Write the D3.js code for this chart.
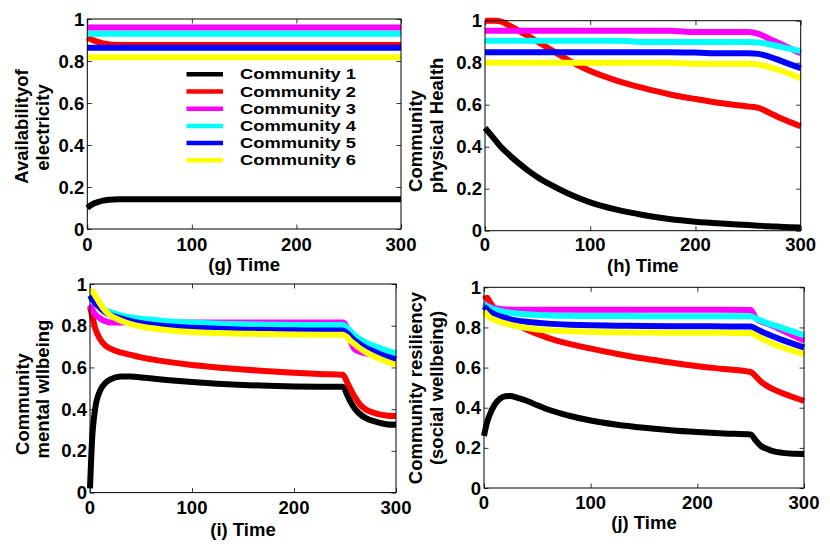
<!DOCTYPE html>
<html><head><meta charset="utf-8">
<script src="https://cdn.jsdelivr.net/npm/d3@7"></script>
<style>
html,body{margin:0;padding:0;background:#fff;}
text{font-family:"Liberation Sans",Arial,Helvetica,sans-serif;font-weight:bold;fill:#000;}
</style></head>
<body><svg id="chart" width="830" height="550"></svg>
<script>
// ---------- DATA ----------
const communities = ["Community 1","Community 2","Community 3","Community 4","Community 5","Community 6"];
const colors = ["#000000","#ff0000","#ff00ff","#00ffff","#0000ff","#ffff00"];
const xTicks = [0,100,200,300];
const yTicks = [0,0.2,0.4,0.6,0.8,1];
const yTickLabels = ["0","0.2","0.4","0.6","0.8","1"];

// (g) Availability of electricity
const timeG = [0,5,10,15,20,25,30,100,200,300];
const elecC1 = [0.100,0.118,0.128,0.135,0.139,0.141,0.142,0.142,0.142,0.142];
const elecC2 = [0.912,0.900,0.891,0.884,0.880,0.877,0.876,0.876,0.876,0.876];
const elecC3 = [0.959,0.959,0.959,0.959,0.959,0.959,0.959,0.959,0.959,0.959];
const elecC4 = [0.930,0.930,0.930,0.930,0.930,0.930,0.930,0.930,0.930,0.930];
const elecC5 = [0.863,0.863,0.863,0.863,0.863,0.863,0.863,0.863,0.863,0.863];
const elecC6 = [0.818,0.818,0.818,0.818,0.818,0.818,0.818,0.818,0.818,0.818];

// (h) Community physical health
const timeH = [0,10,15,20,30,40,50,60,80,100,125,150,175,200,225,250,260,270,280,290,300];
const physC1 = [0.490,0.430,0.400,0.375,0.330,0.290,0.255,0.225,0.175,0.135,0.100,0.075,0.056,0.043,0.034,0.027,0.024,0.021,0.019,0.017,0.015];
const physC2 = [1.000,1.000,0.997,0.985,0.958,0.930,0.900,0.870,0.810,0.760,0.715,0.680,0.650,0.627,0.607,0.592,0.585,0.562,0.538,0.517,0.497];
const physC3 = [0.952,0.952,0.952,0.952,0.952,0.952,0.952,0.952,0.952,0.952,0.952,0.952,0.952,0.946,0.946,0.946,0.937,0.914,0.891,0.868,0.845];
const physC4 = [0.905,0.905,0.905,0.905,0.905,0.905,0.905,0.905,0.905,0.905,0.905,0.899,0.899,0.899,0.899,0.899,0.896,0.888,0.877,0.866,0.855];
const physC5 = [0.850,0.850,0.850,0.850,0.850,0.850,0.850,0.850,0.850,0.850,0.850,0.850,0.850,0.848,0.845,0.845,0.842,0.829,0.811,0.792,0.774];
const physC6 = [0.800,0.800,0.800,0.800,0.800,0.800,0.800,0.800,0.800,0.800,0.800,0.800,0.800,0.795,0.795,0.795,0.791,0.779,0.764,0.746,0.726];

// (i) Community mental wellbeing
const timeI = [0,2,5,10,15,20,30,40,50,75,100,125,150,175,200,225,248,252,256,260,265,270,280,290,300];
const mentC1 = [0.020,0.250,0.400,0.490,0.525,0.543,0.556,0.557,0.552,0.540,0.530,0.522,0.516,0.512,0.509,0.508,0.508,0.470,0.430,0.400,0.375,0.358,0.340,0.328,0.325];
const mentC2 = [0.890,0.850,0.790,0.735,0.705,0.690,0.672,0.660,0.648,0.628,0.612,0.600,0.590,0.582,0.575,0.569,0.565,0.530,0.490,0.455,0.420,0.400,0.380,0.370,0.367];
const mentC3 = [0.900,0.880,0.855,0.835,0.822,0.815,0.815,0.815,0.815,0.815,0.815,0.815,0.815,0.815,0.815,0.815,0.815,0.790,0.720,0.685,0.675,0.668,0.660,0.652,0.646];
const mentC4 = [0.935,0.925,0.910,0.890,0.875,0.865,0.850,0.840,0.833,0.822,0.815,0.810,0.807,0.805,0.804,0.803,0.803,0.790,0.770,0.752,0.735,0.720,0.700,0.682,0.668];
const mentC5 = [0.945,0.930,0.910,0.885,0.865,0.852,0.835,0.822,0.812,0.797,0.790,0.785,0.781,0.779,0.778,0.777,0.777,0.765,0.745,0.728,0.710,0.695,0.673,0.653,0.638];
const mentC6 = [0.960,0.965,0.945,0.905,0.872,0.850,0.825,0.808,0.796,0.780,0.770,0.765,0.762,0.760,0.758,0.757,0.757,0.745,0.725,0.710,0.690,0.675,0.650,0.630,0.613];

// (j) Community resiliency (social wellbeing)
const timeJ = [0,3,5,10,15,20,25,30,40,50,60,80,100,125,150,175,200,225,250,255,260,265,270,280,290,300];
const socC1 = [0.260,0.330,0.360,0.415,0.445,0.457,0.458,0.452,0.435,0.412,0.391,0.360,0.336,0.315,0.300,0.288,0.279,0.272,0.267,0.235,0.208,0.195,0.185,0.175,0.171,0.170];
const socC2 = [0.940,0.948,0.930,0.895,0.870,0.850,0.830,0.815,0.790,0.767,0.748,0.718,0.695,0.668,0.645,0.625,0.607,0.593,0.578,0.555,0.528,0.510,0.495,0.472,0.452,0.434];
const socC3 = [0.920,0.910,0.905,0.897,0.892,0.890,0.889,0.888,0.888,0.888,0.888,0.888,0.888,0.888,0.888,0.888,0.888,0.888,0.887,0.845,0.830,0.820,0.810,0.785,0.760,0.735];
const socC4 = [0.915,0.905,0.900,0.890,0.882,0.877,0.873,0.870,0.866,0.862,0.860,0.858,0.857,0.857,0.856,0.856,0.856,0.856,0.856,0.845,0.833,0.823,0.814,0.797,0.779,0.760];
const socC5 = [0.905,0.890,0.880,0.865,0.855,0.847,0.840,0.835,0.828,0.823,0.819,0.814,0.811,0.809,0.807,0.806,0.806,0.805,0.805,0.793,0.780,0.768,0.757,0.737,0.718,0.700];
const socC6 = [0.880,0.862,0.852,0.838,0.828,0.820,0.813,0.807,0.798,0.790,0.786,0.781,0.778,0.776,0.775,0.774,0.774,0.773,0.772,0.760,0.746,0.733,0.720,0.700,0.683,0.667];

// ---------- LAYOUT ----------
const svg = d3.select("#chart");
const panels = [
  {box:[87.3,19,401,229], t:timeG, s:[elecC1,elecC2,elecC3,elecC4,elecC5,elecC6],
   xlab:"(g) Time", xlabY:270.5, tickY:251,
   ylab:[{txt:"Availabilityof",x:28,cy:126.5},{txt:"electricity",x:49,cy:127.5}], legend:true},
  {box:[485,20.7,800.7,230.7], t:timeH, s:[physC1,physC2,physC3,physC4,physC5,physC6],
   xlab:"(h) Time", xlabY:272, tickY:250.5,
   ylab:[{txt:"Community",x:421.5,cy:141},{txt:"physical Health",x:442.5,cy:125.5}]},
  {box:[90,284,396,492.6], t:timeI, s:[mentC1,mentC2,mentC3,mentC4,mentC5,mentC6],
   xlab:"(i) Time", xlabY:536, tickY:514,
   ylab:[{txt:"Community",x:28.5,cy:404},{txt:"mental wllbeing",x:48.5,cy:389}]},
  {box:[484,287.3,804,488], t:timeJ, s:[socC1,socC2,socC3,socC4,socC5,socC6],
   xlab:"(j) Time", xlabY:528.5, tickY:508.5,
   ylab:[{txt:"Community resiliency",x:421.5,cy:388},{txt:"(social wellbeing)",x:442.5,cy:388}]}
];

const FS = 18.5;
panels.forEach(p => {
  const [x0,y0,x1,y1] = p.box;
  const x = d3.scaleLinear().domain([0,300]).range([x0,x1]);
  const y = d3.scaleLinear().domain([0,1]).range([y1,y0]);
  const g = svg.append("g");

  // ticks (inward, all four sides)
  const tl = 4.5;
  const bottom = d3.axisBottom(x).tickValues(xTicks).tickSize(-tl).tickFormat("");
  const top = d3.axisTop(x).tickValues(xTicks).tickSize(-tl).tickFormat("");
  const left = d3.axisLeft(y).tickValues(yTicks).tickSize(-tl).tickFormat("");
  const right = d3.axisRight(y).tickValues(yTicks).tickSize(-tl).tickFormat("");
  [[bottom,`translate(0,${y1})`],[top,`translate(0,${y0})`],[left,`translate(${x0},0)`],[right,`translate(${x1},0)`]]
    .forEach(([ax,tr]) => {
      const a = g.append("g").attr("transform",tr).call(ax);
      a.select(".domain").remove();
      a.selectAll("line").attr("stroke","#000").attr("stroke-width",0.8);
    });

  // lines
  const line = d3.line().x((d,i)=>x(p.t[i])).y(d=>y(d)).curve(d3.curveMonotoneX);
  p.s.forEach((vals,k) => {
    g.append("path").attr("d", line(vals)).attr("fill","none")
      .attr("stroke", colors[k]).attr("stroke-width",6)
      .attr("stroke-linejoin","round").attr("stroke-linecap","butt");
  });

  // box
  g.append("rect").attr("x",x0).attr("y",y0).attr("width",x1-x0).attr("height",y1-y0)
    .attr("fill","none").attr("stroke","#000").attr("stroke-width",1);

  // tick labels
  xTicks.forEach(v => g.append("text").attr("x",x(v)).attr("y",p.tickY)
    .attr("text-anchor","middle").attr("font-size",FS).text(v));
  yTicks.forEach((v,i) => g.append("text").attr("x",x0-3).attr("y",y(v)+6.5)
    .attr("text-anchor","end").attr("font-size",FS).text(yTickLabels[i]));

  // x label
  g.append("text").attr("x",(x0+x1)/2).attr("y",p.xlabY).attr("text-anchor","middle")
    .attr("font-size",FS).text(p.xlab);
  // y labels
  p.ylab.forEach(l => g.append("text").attr("transform",`translate(${l.x},${l.cy}) rotate(-90)`)
    .attr("text-anchor","middle").attr("font-size",FS).text(l.txt));

  // legend
  if (p.legend) {
    const lg = g.append("g");
    communities.forEach((c,i) => {
      const ly = 74.3 + i*17.2;
      lg.append("line").attr("x1",186.5).attr("x2",223).attr("y1",ly).attr("y2",ly)
        .attr("stroke",colors[i]).attr("stroke-width",4.5);
      lg.append("text").attr("x",240).attr("y",ly+5).attr("font-size",15.5)
        .attr("textLength",116).attr("lengthAdjust","spacingAndGlyphs").text(c);
    });
  }
});
</script></body></html>
